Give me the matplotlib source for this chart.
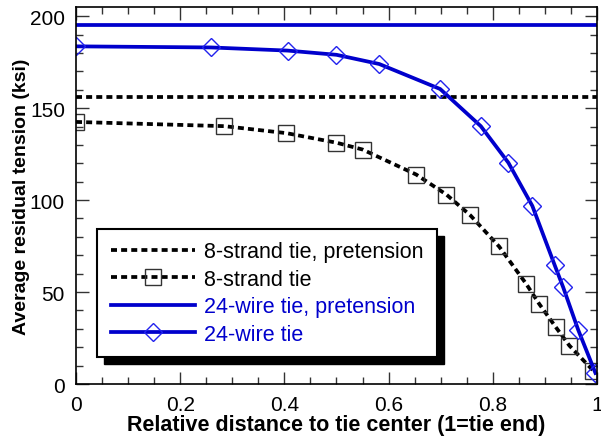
import numpy as np
import matplotlib.pyplot as plt
from matplotlib.patches import Rectangle
from matplotlib.lines import Line2D

plt.rcParams['font.family'] = ['Liberation Sans', 'DejaVu Sans']

# 8-strand tie
x8 = [0.0, 0.285, 0.404, 0.500, 0.550, 0.653, 0.711, 0.757, 0.812, 0.864, 0.889, 0.921, 0.947, 0.993]
y8 = [142.5, 140.2, 136.4, 131.2, 127.5, 113.9, 103.0, 91.7, 74.8, 54.5, 43.6, 30.9, 20.9, 7.2]
pre8 = 156.0

# 24-wire tie
x24 = [0.0, 0.259, 0.406, 0.500, 0.582, 0.699, 0.777, 0.830, 0.876, 0.919, 0.935, 0.964, 0.997]
y24 = [183.6, 183.0, 181.3, 179.0, 174.0, 160.4, 140.2, 120.3, 96.8, 64.5, 52.7, 29.4, 6.0]
pre24 = 195.0

labels = ['8-strand tie, pretension', '8-strand tie',
          '24-wire tie, pretension', '24-wire tie']

blue = '#0000cc'
fig = plt.figure(figsize=(6.01, 4.39), dpi=100)
ax = fig.add_axes([0.1265, 0.123, 0.8668, 0.8588])

dash = (0, (1.6, 1.1))
ax.axhline(pre8, color='black', lw=2.7, linestyle=dash)
ax.plot(x8, y8, color='black', lw=2.7, linestyle=dash)
ax.plot(x8, y8, linestyle='none', marker='s', ms=11, mfc='none', mec='#333333', mew=1.0)
ax.axhline(pre24, color=blue, lw=2.7)
ax.plot(x24, y24, color=blue, lw=2.7)
ax.plot(x24, y24, linestyle='none', marker='D', ms=9.5, mfc='none', mec='#2222ee', mew=1.0)

ax.set_xlim(0, 1)
ax.set_ylim(0, 205)
ax.set_xticks(np.arange(0, 1.01, 0.2))
ax.set_xticklabels(['0', '0.2', '0.4', '0.6', '0.8', '1'])
ax.set_xticks(np.arange(0, 1.001, 0.05), minor=True)
ax.set_yticks(np.arange(0, 201, 50))
ax.set_yticks(np.arange(0, 201, 10), minor=True)
ax.tick_params(which='both', direction='in', top=True, right=True, labelsize=15, color='#333333')
ax.tick_params(which='major', length=9, width=1.0, pad=8)
ax.tick_params(which='minor', length=5, width=1.0)
for s in ax.spines.values():
    s.set_linewidth(1.2)

ax.set_xlabel('Relative distance to tie center (1=tie end)', fontsize=15.5, fontweight='bold', labelpad=0)
ax.set_ylabel('Average residual tension (ksi)', fontsize=14, fontweight='bold', labelpad=0)

# legend box with hard shadow
bx0, by0 = (97 - 76) / 521, (385 - 358) / 377
bw, bh = (437 - 97) / 521, (358 - 230) / 377
sx, sy = 7 / 521, 7 / 377
ax.add_patch(Rectangle((bx0 + sx, by0 - sy), bw, bh, transform=ax.transAxes,
                       facecolor='black', edgecolor='black', zorder=5))
ax.add_patch(Rectangle((bx0, by0), bw, bh, transform=ax.transAxes,
                       facecolor='white', edgecolor='black', lw=1.5, zorder=6))
handles = [
    Line2D([], [], color='black', lw=2.7, linestyle=dash),
    Line2D([], [], color='black', lw=2.7, linestyle=dash, marker='s', ms=11,
           mfc='none', mec='#333333', mew=1.0),
    Line2D([], [], color=blue, lw=2.7),
    Line2D([], [], color=blue, lw=2.7, marker='D', ms=9.5, mfc='none', mec='#2222ee', mew=1.0),
]
leg = ax.legend(handles, labels, loc='center', bbox_to_anchor=(bx0, by0, bw, bh),
                frameon=False, fontsize=15.5, handlelength=3.9, handletextpad=0.4,
                labelspacing=0.3, borderpad=0.2)
leg.set_zorder(7)
for t, c in zip(leg.get_texts(), ['black', 'black', blue, blue]):
    t.set_color(c)

fig.savefig('out.png', dpi=100)
